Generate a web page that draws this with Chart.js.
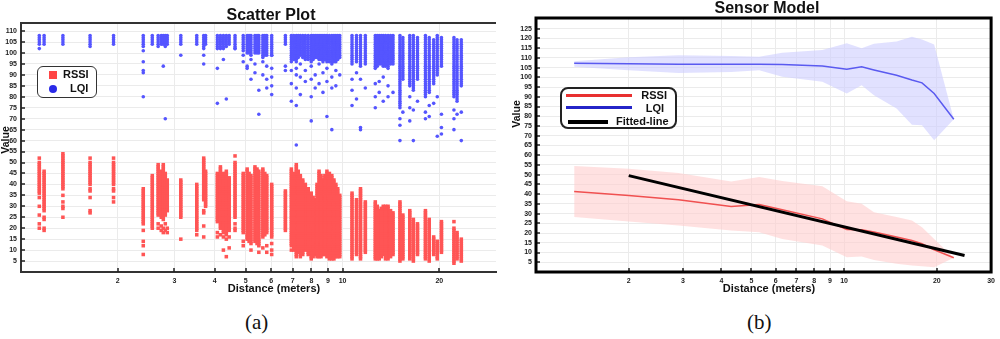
<!DOCTYPE html>
<html lang="en">
    <head>
        <meta charset="utf-8" />
        <script src="https://cdn.jsdelivr.net/npm/chart.js@4.4.1/dist/chart.umd.min.js"></script>
        <title>Scatter Plot / Sensor Model</title>
        <style>
            body { margin: 0; background: #fff; }
            #wrap { position: relative; width: 1000px; height: 339px; overflow: hidden; font-family: "Liberation Sans", Arial, sans-serif; }
            canvas { position: absolute; top: 0; }
            .legend { position: absolute; box-sizing: border-box; background: #fff; font-weight: bold; font-size: 11px; color: #111; }
            .cap { position: absolute; top: 310px; font-family: "Liberation Serif", "Times New Roman", serif; font-size: 21px; color: #111; }
        </style>
    </head>
    <body>
        <div id="wrap">
            <canvas id="scatter" width="500" height="300" style="left:0"></canvas>
            <canvas id="sensor" width="500" height="300" style="left:500px"></canvas>

            <div class="legend" style="left:37px;top:66px;width:60px;height:32px;border:1.5px solid #333;border-radius:6px;">
                <div style="position:absolute;left:11px;top:4px;width:8px;height:8px;background:#ff4545;"></div>
                <div style="position:absolute;left:25px;top:1px;">RSSI</div>
                <div style="position:absolute;left:11px;top:18px;width:8px;height:8px;border-radius:50%;background:#2a2ae8;"></div>
                <div style="position:absolute;left:32px;top:15px;">LQI</div>
            </div>

            <div class="legend" style="left:560px;top:87px;width:117px;height:42px;border:2px solid #222;border-radius:8px;">
                <div style="position:absolute;left:4px;top:5px;width:66px;height:3px;background:#e83030;"></div>
                <div style="position:absolute;right:8px;top:0px;">RSSI</div>
                <div style="position:absolute;left:4px;top:17px;width:66px;height:3px;background:#2424c8;"></div>
                <div style="position:absolute;right:11px;top:13px;">LQI</div>
                <div style="position:absolute;left:6px;top:31px;width:40px;height:4px;background:#000;"></div>
                <div style="position:absolute;left:54px;top:26px;">Fitted-line</div>
            </div>

            <div class="cap" style="left:245px;">(a)</div>
            <div class="cap" style="left:747px;">(b)</div>
        </div>
        <script>
            // ---- (a) scatter plot: one column of readings per measured distance ----
            // each column is a dense stack of integer values between lo and hi, plus stray points
            var colDist = [1.14, 1.18, 1.35, 1.64, 1.94, 2.40, 2.56, 2.67, 2.73, 2.77, 2.81, 2.85, 3.14, 3.52, 3.70, 3.75,
                4.08, 4.17, 4.26, 4.35, 4.44, 4.63, 4.91, 5.05, 5.19, 5.34, 5.49, 5.65, 5.81, 6.02, 6.64, 6.93, 7.18,
                7.39, 7.66, 7.99, 8.22, 8.45, 8.69, 8.94, 9.26, 9.53, 9.80, 10.7, 11.05, 11.37, 11.77, 12.64, 13.0,
                13.38, 13.85, 14.35, 15.08, 15.4, 16.18, 16.6, 17.1, 18.1, 18.6, 19.2, 19.7, 20.3, 22.2, 22.7, 23.4,
                7.05, 7.28, 7.52, 7.82, 8.10, 8.33, 8.57, 8.81, 9.10, 9.40, 9.66, 12.82, 13.19, 13.6, 14.1, 5.12, 5.42, 5.73];

            var rssiLo = [36, 28, 38, 40, 40, 22, 20, 26, 25, 24, 26, 28, 25, 19, 33, 30, 23, 20, 18, 17, 19, 25, 18, 15,
                13, 14, 12, 16, 18, 16, 19, 12, 8, 8, 10, 6, 8, 7, 8, 7, 6, 7, 7, 6, 8, 6, 9, 6, 6, 8, 6, 8, 5, 6, 6, 5,
                8, 6, 5, 8, 6, 9, 4, 6, 5,
                10, 9, 8, 8, 7, 7, 7, 8, 6, 6, 7, 6, 7, 6, 7, 14, 13, 17];
            var rssiHi = [50, 46, 54, 50, 50, 38, 44, 49, 46, 49, 45, 42, 42, 40, 52, 46, 45, 48, 45, 46, 43, 50, 45, 47,
                44, 48, 46, 47, 44, 40, 37, 47, 49, 44, 40, 36, 33, 46, 42, 46, 44, 40, 35, 36, 33, 38, 32, 32, 28, 30,
                30, 27, 32, 26, 28, 24, 22, 28, 24, 16, 14, 23, 20, 18, 15,
                45, 46, 42, 38, 34, 40, 44, 44, 45, 42, 38, 30, 29, 30, 28, 45, 47, 45];
            var rssiStray = [[52, 34, 30, 26, 22, 20], [25, 24, 20, 19], [35, 32, 30, 29, 25], [52, 38, 37, 34, 28, 27],
                [52, 38, 37, 34, 32], [19, 14, 12, 8], [], [22, 20], [21, 19], [20, 18], [22, 19], [20, 18], [15], [17],
                [28, 27, 21, 16], [], [18, 16], [17], [16, 10], [15, 7], [16, 11], [53, 22, 20, 19], [14, 12], [], [10],
                [], [9], [11], [12, 9], [13, 10, 8], [], [10], [7], [7], [], [], [], [], [], [], [], [], [], [], [], [],
                [], [], [], [], [], [], [], [], [], [], [], [], [], [], [], [], [23], [], [],
                [], [], [], [], [], [], [], [], [], [], [], [], [], [], [], [], [], []];

            var lqiLo = [104, 104, 104, 103, 104, 104, 104, 103, 104, 104, 103, 104, 104, 104, 102, 104, 103, 102, 102,
                103, 104, 102, 101, 100, 99, 100, 100, 98, 99, 99, 104, 97, 96, 99, 97, 96, 98, 97, 96, 96, 95, 96,
                98, 95, 96, 94, 95, 93, 95, 94, 93, 95, 75, 88, 85, 83, 88, 80, 82, 86, 90, 94, 80, 78, 85,
                97, 98, 98, 97, 97, 98, 97, 97, 96, 96, 97, 94, 95, 94, 95, 100, 100, 99];
            var lqiHi = [108, 108, 108, 108, 108, 108, 108, 108, 108, 108, 108, 108, 108, 108, 108, 108, 108, 108, 108,
                108, 108, 108, 108, 108, 108, 108, 108, 108, 108, 108, 108, 108, 108, 108, 108, 108, 108, 108, 108, 108,
                108, 108, 108, 108, 108, 108, 108, 108, 108, 108, 108, 108, 108, 107, 108, 108, 107, 108, 107, 106, 108,
                107, 107, 106, 106,
                108, 108, 108, 108, 108, 108, 108, 108, 108, 108, 108, 108, 108, 108, 108, 108, 108, 108];
            var lqiStray = [[102], [], [], [], [], [103, 101, 96, 92, 91, 80], [], [], [], [94], [70], [], [99], [],
                [99, 95], [], [102, 93, 77], [], [97], [79], [], [102], [99, 96], [94, 93], [97, 88], [95, 91], [83, 72],
                [96, 90], [94, 88, 84], [99, 93, 89, 85, 81], [94, 92], [96, 92, 86, 78], [93, 90, 84, 76, 58],
                [95, 89, 81], [92, 87], [94, 88, 80, 69], [90, 84], [95, 86], [91, 82], [93, 87, 71], [89, 84, 65],
                [92, 85], [90], [88, 83, 76], [91, 79], [88, 66, 65], [84], [86, 80, 75], [87, 82], [89, 78], [85, 80],
                [82], [70, 67, 60], [73], [80, 75, 69], [74, 60], [78], [73, 70], [76, 71], [77], [80, 62], [72, 66, 63],
                [74, 70, 65], [72], [73, 60],
                [], [], [], [], [], [], [], [], [], [], [], [], [], [], [], [], [], []];

            var ticksA = [2, 3, 4, 5, 6, 7, 8, 9, 10, 20];

            // ---- (b) sensor model: mean with min/max band ----
            var sensDist = [1.33, 2.0, 2.9, 4.3, 5.3, 6.3, 8.5, 10.2, 11.4, 12.5, 14.8, 16.6, 17.9, 19.6, 22.7];
            var lqiMean = [107.2, 107.0, 106.8, 106.8, 106.8, 106.6, 105.8, 104.2, 105.4, 103.8, 101.1, 98.6, 97.2, 91.7, 78.5];
            var lqiUp = [108.3, 110.3, 111.4, 111.0, 110.6, 112.6, 114.0, 117.5, 114.9, 117.3, 118.4, 120.9, 119.5, 116.9, 78.5];
            var lqiDown = [105.4, 103.7, 102.3, 102.8, 103.7, 100.3, 97.7, 91.7, 96.0, 90.8, 84.0, 75.7, 75.4, 67.7, 78.5];
            var rssiMean = [41.3, 39.3, 37.1, 33.7, 34.7, 32.0, 27.3, 21.8, 21.7, 20.5, 18.0, 16.2, 14.5, 11.4, 7.3];
            var rssiUp = [54.4, 53.1, 50.8, 46.5, 48.8, 46.7, 44.0, 36.4, 35.1, 30.7, 28.2, 26.5, 23.0, 17.0, 7.3];
            var rssiDown = [28.2, 25.9, 23.9, 21.3, 20.4, 17.0, 13.6, 7.6, 7.9, 6.2, 4.2, 3.3, 3.0, 2.4, 7.3];
            var fitDist = [2, 24.6];
            var fitVal = [49.5, 8.5];

            var ticksB = [2, 3, 4, 5, 6, 7, 8, 9, 10, 20, 30];

            Chart.defaults.font.family = '"Liberation Sans", Arial, sans-serif';
            Chart.defaults.color = "#222";

            function stacks(lo, hi, stray) {
                var pts = [];
                colDist.forEach((d, i) => {
                    for (var v = lo[i]; v <= hi[i]; v++) pts.push({ x: d, y: v });
                    stray[i].forEach((v) => pts.push({ x: d, y: v }));
                });
                return pts;
            }
            function pairs(xs, ys) {
                return xs.map((x, i) => ({ x: x, y: ys[i] }));
            }

            // titles, inward tick marks and frame
            var deco = {
                id: "deco",
                afterDraw(chart, args, o) {
                    var ctx = chart.ctx, a = chart.chartArea, xs = chart.scales.x, ys = chart.scales.y;
                    ctx.save();
                    ctx.strokeStyle = "#222";
                    ctx.lineWidth = 1.5;
                    ctx.beginPath();
                    xs.ticks.forEach((t) => {
                        var p = Math.round(xs.getPixelForValue(t.value));
                        ctx.moveTo(p, a.bottom);
                        ctx.lineTo(p, a.bottom - 4);
                    });
                    ys.ticks.forEach((t) => {
                        var p = Math.round(ys.getPixelForValue(t.value));
                        ctx.moveTo(a.left, p);
                        ctx.lineTo(a.left + 4, p);
                    });
                    ctx.stroke();
                    ctx.strokeStyle = o.frameColor;
                    ctx.lineWidth = o.frameWidth;
                    if (o.box) {
                        ctx.strokeRect(a.left, a.top, a.right - a.left, a.bottom - a.top);
                    } else {
                        ctx.beginPath();
                        ctx.moveTo(a.left, a.top);
                        ctx.lineTo(a.right, a.top);
                        ctx.stroke();
                    }
                    ctx.fillStyle = "#111";
                    ctx.textAlign = "center";
                    ctx.textBaseline = "alphabetic";
                    ctx.font = 'bold 16px "Liberation Sans", Arial, sans-serif';
                    ctx.fillText(o.title, o.titleX, o.titleY);
                    ctx.font = 'bold 11px "Liberation Sans", Arial, sans-serif';
                    ctx.fillText("Distance (meters)", o.xTitleX, o.xTitleY);
                    ctx.translate(o.yTitleX, o.yTitleY);
                    ctx.rotate(-Math.PI / 2);
                    ctx.textBaseline = "middle";
                    ctx.font = 'bold 10.5px "Liberation Sans", Arial, sans-serif';
                    ctx.fillText("Value", 0, 0);
                    ctx.restore();
                },
            };

            function axes(yMax, yTop, yWidth, tickList, borderW) {
                return {
                    x: {
                        type: "logarithmic",
                        min: 1,
                        max: 30,
                        afterBuildTicks: (s) => { s.ticks = tickList.map((v) => ({ value: v })); },
                        afterFit: (s) => { s.height = 28; },
                        grid: { color: "#ebebeb", drawTicks: false },
                        border: { color: "#333", width: borderW },
                        ticks: { callback: (v) => String(v), autoSkip: false, maxRotation: 0, padding: 5, font: { size: 7, weight: "bold" } },
                    },
                    y: {
                        min: 0,
                        max: yMax,
                        afterBuildTicks: (s) => {
                            var t = [];
                            for (var v = 5; v <= yTop; v += 5) t.push({ value: v });
                            s.ticks = t;
                        },
                        afterFit: (s) => { s.width = yWidth; },
                        grid: { color: "#ebebeb", drawTicks: false },
                        border: { color: "#333", width: borderW },
                        ticks: { autoSkip: false, padding: 4, font: { size: 7, weight: "bold" } },
                    },
                };
            }

            new Chart(document.getElementById("scatter"), {
                type: "scatter",
                data: {
                    datasets: [
                        { label: "LQI", data: stacks(lqiLo, lqiHi, lqiStray), pointStyle: "circle", pointRadius: 1.8, borderWidth: 0, backgroundColor: "#5555ff" },
                        { label: "RSSI", data: stacks(rssiLo, rssiHi, rssiStray), pointStyle: "rect", pointRadius: 2.5, borderWidth: 0, backgroundColor: "#ff5555" },
                    ],
                },
                options: {
                    responsive: false,
                    animation: false,
                    layout: { padding: { top: 23, right: 0, left: 0, bottom: 0 } },
                    scales: axes(113.7, 110, 21, ticksA, 2),
                    plugins: {
                        legend: { display: false },
                        tooltip: { enabled: false },
                        deco: { title: "Scatter Plot", titleX: 271, titleY: 20, xTitleX: 274, xTitleY: 292, yTitleX: 6, yTitleY: 140, box: false, frameColor: "#333", frameWidth: 2 },
                    },
                },
                plugins: [deco],
            });

            new Chart(document.getElementById("sensor"), {
                type: "line",
                data: {
                    datasets: [
                        { label: "Fitted-line", data: pairs(fitDist, fitVal), borderColor: "#000", borderWidth: 3, pointRadius: 0, fill: false },
                        { label: "RSSI", data: pairs(sensDist, rssiMean), borderColor: "#f05050", borderWidth: 1.5, pointRadius: 0, fill: false },
                        { label: "LQI", data: pairs(sensDist, lqiMean), borderColor: "#5a5af0", borderWidth: 1.5, pointRadius: 0, fill: false },
                        { label: "lqiUp", data: pairs(sensDist, lqiUp), borderWidth: 0, pointRadius: 0, fill: "+1", backgroundColor: "rgba(205,205,255,0.6)" },
                        { label: "lqiDown", data: pairs(sensDist, lqiDown), borderWidth: 0, pointRadius: 0, fill: false },
                        { label: "rssiUp", data: pairs(sensDist, rssiUp), borderWidth: 0, pointRadius: 0, fill: "+1", backgroundColor: "rgba(255,205,205,0.6)" },
                        { label: "rssiDown", data: pairs(sensDist, rssiDown), borderWidth: 0, pointRadius: 0, fill: false },
                    ],
                },
                options: {
                    responsive: false,
                    animation: false,
                    layout: { padding: { top: 18, right: 3, left: 0, bottom: 0 } },
                    scales: axes(130.5, 125, 36, ticksB, 0),
                    plugins: {
                        legend: { display: false },
                        tooltip: { enabled: false },
                        filler: { drawTime: "beforeDatasetsDraw" },
                        deco: { title: "Sensor Model", titleX: 267, titleY: 13, xTitleX: 269, xTitleY: 292, yTitleX: 17, yTitleY: 114, box: true, frameColor: "#000", frameWidth: 3 },
                    },
                },
                plugins: [deco],
            });
        </script>
    </body>
</html>
